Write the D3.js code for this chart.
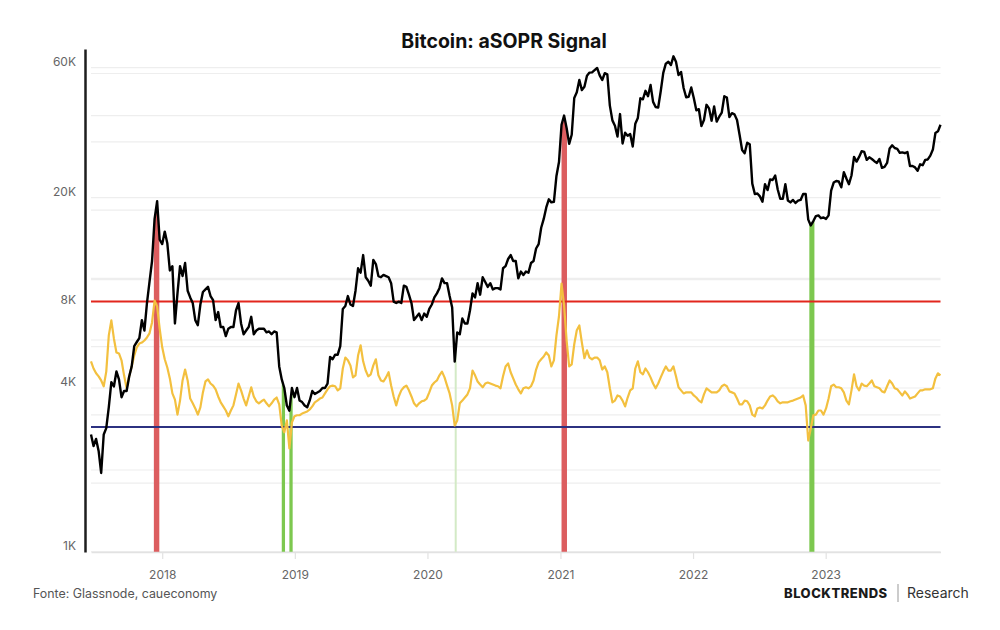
<!DOCTYPE html>
<html>
<head>
<meta charset="utf-8">
<script src="https://cdn.jsdelivr.net/npm/d3@7"></script>
<style>
  body { margin: 0; background: #fff; }
  text { font-family: Inter, "Noto Sans", sans-serif; }
</style>
</head>
<body>
<div id="chart"></div>
<script>
// dados semanais a partir de 19/06/2017
const startDate = "2017-06-19";
const endDate = "2023-11-13";

// preço do BTC (USD), fechamento semanal aproximado
const price = [
  2700, 2450, 2600, 2350, 1950, 2700, 2850, 3400, 4200, 4050,
  4600, 4300, 3700, 3900, 3900, 4400, 4800, 5700, 5900, 6100,
  7100, 6500, 8200, 9800, 11700, 16700, 19400, 14000, 13500, 15000,
  13600, 10800, 11200, 6900, 8900, 11200, 10300, 11500, 9100, 8600,
  8200, 7100, 6800, 8100, 9000, 9200, 9400, 8700, 8400, 7100,
  7600, 6700, 6700, 6200, 6600, 6700, 6700, 7700, 8200, 6900,
  6300, 6500, 6700, 7300, 6300, 6500, 6600, 6600, 6600, 6400,
  6450, 6300, 6450, 6400, 4800, 4300, 4000, 3450, 3300, 4000,
  3700, 4000, 3600, 3550, 3450, 3400, 3600, 3900, 3800, 3850,
  3900, 4000, 4000, 4150, 5200, 5100, 5300, 5300, 5700, 7800,
  8000, 8700, 8100, 8000, 9100, 11000, 10600, 12300, 10200, 9900,
  9500, 11800, 11400, 10300, 10200, 10400, 10300, 10200, 9700, 8300,
  8200, 8300, 8200, 9500, 9400, 8800, 8200, 7100, 7300, 7500,
  7100, 7500, 7300, 7800, 8100, 8600, 8900, 9300, 10100, 9700,
  9700, 8700, 7900, 5000, 6400, 6300, 7200, 6900, 6900, 7700,
  8900, 8600, 9700, 8800, 10200, 9800, 9400, 9700, 9200, 9300,
  9300, 9200, 11000, 11200, 11900, 12300, 11700, 11700, 10100, 10700,
  10400, 10700, 10600, 11500, 11700, 13000, 13500, 15500, 16700, 18400,
  19700, 19200, 19300, 24000, 27000, 37000, 40000, 36000, 31500, 34000,
  46400, 48700, 54000, 49600, 51000, 56000, 57500, 57600, 58700, 59800,
  56200, 54000, 57200, 56700, 43500, 38400, 36700, 33500, 40500, 31600,
  34600, 33700, 34200, 30800, 37300, 39200, 46300, 45900, 49300, 47100,
  51800, 44900, 43000, 42800, 49100, 57400, 62000, 63000, 61300, 66000,
  63000, 56300, 57800, 50500, 46700, 46900, 50700, 46400, 41800, 42200,
  36600, 38500, 43800, 42500, 38300, 43200, 38000, 39600, 41000, 47100,
  46600, 39500, 40800, 40400, 38500, 34000, 29900, 29100, 31800, 31400,
  22500, 20600, 20700, 20200, 19300, 22400, 21300, 23300, 23200, 24100,
  21400, 19800, 19800, 22400, 19500, 19200, 19600, 19100, 19500, 19600,
  20600, 20600, 16600, 15800, 16400, 17100, 17200, 16800, 16900, 16700,
  17200, 21200, 22700, 23000, 22900, 21800, 24800, 23500, 22400, 24100,
  28200, 27100, 28200, 29600, 29400, 27500, 28100, 27700, 27200, 26800,
  27700, 25700, 25900, 26800, 30300, 31100, 30400, 30200, 29200, 29300,
  29100, 29400, 26100, 26100, 25800, 25100, 26500, 26300, 27500, 27600,
  28500, 30000, 34500, 35000, 37000
];

// aSOPR (eixo secundário, oculto)
const asopr = [
  1.0157, 1.0136, 1.0122, 1.0113, 1.0101, 1.0084, 1.0127, 1.0233, 1.0277, 1.0224,
  1.0183, 1.0180, 1.0160, 1.0116, 1.0078, 1.0113, 1.0142, 1.0174, 1.0198, 1.0209,
  1.0212, 1.0218, 1.0227, 1.0239, 1.0271, 1.0335, 1.0318, 1.0253, 1.0198, 1.0163,
  1.0139, 1.0107, 1.0063, 1.0045, 1.0001, 1.0042, 1.0101, 1.0133, 1.0101, 1.0048,
  1.0034, 1.0019, 1.0001, 1.0022, 1.0066, 1.0098, 1.0104, 1.0092, 1.0086, 1.0075,
  1.0054, 1.0037, 1.0025, 1.0013, 0.9996, 1.0013, 1.0028, 1.0060, 1.0092, 1.0072,
  1.0048, 1.0028, 1.0054, 1.0081, 1.0054, 1.0040, 1.0034, 1.0040, 1.0045, 1.0034,
  1.0025, 1.0034, 1.0045, 1.0051, 1.0031, 0.9969, 0.9949, 0.9984, 0.9902, 0.9978,
  0.9996, 0.9999, 0.9999, 1.0004, 1.0007, 1.0010, 1.0016, 1.0025, 1.0037, 1.0042,
  1.0048, 1.0051, 1.0063, 1.0075, 1.0084, 1.0086, 1.0084, 1.0072, 1.0078, 1.0136,
  1.0168, 1.0160, 1.0145, 1.0110, 1.0116, 1.0174, 1.0204, 1.0157, 1.0130, 1.0113,
  1.0119, 1.0145, 1.0163, 1.0116, 1.0101, 1.0098, 1.0110, 1.0125, 1.0086, 1.0054,
  1.0028, 1.0054, 1.0072, 1.0081, 1.0086, 1.0072, 1.0054, 1.0034, 1.0025, 1.0034,
  1.0040, 1.0042, 1.0048, 1.0066, 1.0086, 1.0095, 1.0101, 1.0116, 1.0127, 1.0110,
  1.0086, 1.0063, 1.0028, 0.9969, 0.9984, 1.0034, 1.0042, 1.0051, 1.0060, 1.0078,
  1.0130, 1.0116, 1.0098, 1.0089, 1.0081, 1.0092, 1.0095, 1.0092, 1.0089, 1.0086,
  1.0084, 1.0078, 1.0113, 1.0142, 1.0151, 1.0125, 1.0107, 1.0089, 1.0075, 1.0063,
  1.0078, 1.0081, 1.0078, 1.0084, 1.0101, 1.0133, 1.0154, 1.0163, 1.0171, 1.0183,
  1.0174, 1.0142, 1.0160, 1.0233, 1.0289, 1.0385, 1.0321, 1.0218, 1.0142, 1.0148,
  1.0207, 1.0248, 1.0262, 1.0212, 1.0166, 1.0189, 1.0168, 1.0163, 1.0168, 1.0168,
  1.0160, 1.0133, 1.0142, 1.0125, 1.0078, 1.0037, 1.0042, 1.0057, 1.0054, 1.0042,
  1.0025, 1.0051, 1.0072, 1.0078, 1.0136, 1.0157, 1.0125, 1.0119, 1.0136, 1.0125,
  1.0110, 1.0092, 1.0078, 1.0092, 1.0110, 1.0127, 1.0142, 1.0130, 1.0130, 1.0142,
  1.0113, 1.0081, 1.0072, 1.0063, 1.0066, 1.0066, 1.0066, 1.0057, 1.0051, 1.0042,
  1.0037, 1.0060, 1.0078, 1.0072, 1.0066, 1.0066, 1.0066, 1.0072, 1.0084, 1.0089,
  1.0084, 1.0069, 1.0066, 1.0063, 1.0048, 1.0031, 1.0031, 1.0042, 1.0040, 1.0028,
  1.0001, 0.9996, 1.0019, 1.0022, 1.0019, 1.0028, 1.0042, 1.0054, 1.0057, 1.0051,
  1.0040, 1.0034, 1.0037, 1.0037, 1.0037, 1.0040, 1.0042, 1.0045, 1.0048, 1.0051,
  1.0057, 1.0028, 0.9925, 0.9960, 0.9999, 1.0001, 1.0013, 1.0013, 1.0001, 1.0019,
  1.0048, 1.0084, 1.0089, 1.0081, 1.0081, 1.0078, 1.0066, 1.0042, 1.0031, 1.0072,
  1.0119, 1.0084, 1.0072, 1.0092, 1.0086, 1.0084, 1.0092, 1.0101, 1.0084, 1.0081,
  1.0078, 1.0069, 1.0066, 1.0084, 1.0101, 1.0092, 1.0078, 1.0075, 1.0066, 1.0057,
  1.0069, 1.0060, 1.0048, 1.0051, 1.0054, 1.0063, 1.0072, 1.0072, 1.0075, 1.0075,
  1.0075, 1.0078, 1.0107, 1.0122, 1.0116
];

// sinais (início, fim, tipo)
const signalStart = ["2017-12-09", "2018-11-26", "2018-12-17", "2020-03-16", "2021-01-04", "2022-11-17"];
const signalEnd   = ["2017-12-24", "2018-12-05", "2018-12-26", "2020-03-21", "2021-01-19", "2022-12-01"];
const signalType  = ["venda", "compra", "compra", "fraco", "venda", "compra"];

// limites do aSOPR
const sellLevel = 1.0332;
const buyLevel = 0.9965;

// eixos
const priceTicks = [1000, 4000, 8000, 20000, 60000];
const priceGrid = [2000, 4000, 6000, 10000, 20000, 40000, 60000];
const yearTicks = ["2018", "2019", "2020", "2021", "2022", "2023"];

const W = 1000, H = 630;
const plotLeft = 91, plotRight = 940.5, plotTop = 49, plotBottom = 552;

const parse = d3.utcParse("%Y-%m-%d");
const t0 = parse(startDate);
const data = price.map((p, i) => ({
  date: d3.utcDay.offset(t0, 7 * i),
  price: p,
  sopr: asopr[i]
}));

const svg = d3.select("#chart").append("svg")
  .attr("width", W)
  .attr("height", H);

const x = d3.scaleUtc()
  .domain([t0, parse(endDate)])
  .range([plotLeft, plotRight]);

const y = d3.scaleLog()
  .domain([1000, 70200])
  .range([plotBottom, plotTop]);

const y2 = d3.scaleLinear()
  .domain([0.96, 1.10])
  .range([551.5, 73.5]);

// linhas de grade
const grid = svg.append("g");
grid.selectAll(".g1")
  .data(priceGrid)
  .enter().append("line")
  .attr("x1", plotLeft).attr("x2", plotRight)
  .attr("y1", d => y(d)).attr("y2", d => y(d))
  .attr("stroke", "#eeeeee")
  .attr("stroke-width", 1.2);
grid.selectAll(".g2")
  .data(y2.ticks(7))
  .enter().append("line")
  .attr("x1", plotLeft).attr("x2", plotRight)
  .attr("y1", d => y2(d)).attr("y2", d => y2(d))
  .attr("stroke", "#eeeeee")
  .attr("stroke-width", 1.2);

// barras de sinal, cortadas pela área abaixo do preço
svg.append("clipPath")
  .attr("id", "abaixo")
  .append("path")
  .attr("d", d3.area()
    .x(d => x(d.date))
    .y0(plotBottom)
    .y1(d => y(d.price))(data));

const signalColor = { venda: "#dc5d5f", compra: "#7dc84f", fraco: "#d3eac6" };
svg.append("g")
  .attr("clip-path", "url(#abaixo)")
  .selectAll("rect")
  .data(signalStart.map((s, i) => ({ s: parse(s), e: parse(signalEnd[i]), type: signalType[i] })))
  .enter().append("rect")
  .attr("x", d => x(d.s))
  .attr("width", d => Math.max(2, x(d.e) - x(d.s)))
  .attr("y", plotTop)
  .attr("height", plotBottom - plotTop)
  .attr("fill", d => signalColor[d.type]);

// limites horizontais
svg.append("line")
  .attr("x1", plotLeft).attr("x2", plotRight)
  .attr("y1", y2(sellLevel)).attr("y2", y2(sellLevel))
  .attr("stroke", "#e2261d")
  .attr("stroke-width", 2);
svg.append("line")
  .attr("x1", plotLeft).attr("x2", plotRight)
  .attr("y1", y2(buyLevel)).attr("y2", y2(buyLevel))
  .attr("stroke", "#2c3181")
  .attr("stroke-width", 2);

// aSOPR
svg.append("path")
  .datum(data)
  .attr("fill", "none")
  .attr("stroke", "#f3c03f")
  .attr("stroke-width", 2.2)
  .attr("stroke-linejoin", "round")
  .attr("d", d3.line().x(d => x(d.date)).y(d => y2(d.sopr)));

// preço
svg.append("path")
  .datum(data)
  .attr("fill", "none")
  .attr("stroke", "#000")
  .attr("stroke-width", 2.4)
  .attr("stroke-linejoin", "round")
  .attr("d", d3.line().x(d => x(d.date)).y(d => y(d.price)));

// eixo X
const xAxis = svg.append("g")
  .attr("transform", `translate(0,${plotBottom})`)
  .call(d3.axisBottom(x)
    .tickValues(yearTicks.map(d => parse(d + "-01-01")))
    .tickFormat(d3.utcFormat("%Y"))
    .tickSize(7)
    .tickSizeOuter(0)
    .tickPadding(11));
xAxis.select(".domain").attr("stroke", "#e2e2e2").attr("stroke-width", 1.5);
xAxis.selectAll(".tick line").attr("stroke", "#e2e2e2").attr("stroke-width", 1.2);
xAxis.selectAll("text")
  .attr("fill", "#666")
  .style("font-size", "12px")
  .style("font-family", "Inter, sans-serif");

// eixo Y (log)
const yAxis = svg.append("g")
  .attr("transform", "translate(85,0)")
  .call(d3.axisLeft(y)
    .tickValues(priceTicks)
    .tickFormat(d => d / 1000 + "K")
    .tickSize(0)
    .tickPadding(9));
yAxis.select(".domain").attr("stroke", "#1e1e1e").attr("stroke-width", 2.5);
yAxis.selectAll("text")
  .attr("dy", "-0.18em")
  .attr("fill", "#666")
  .style("font-size", "12px")
  .style("font-family", "Inter, sans-serif");

// título
svg.append("text")
  .attr("x", 504)
  .attr("y", 48)
  .attr("text-anchor", "middle")
  .style("font-size", "19.5px")
  .style("font-weight", "700")
  .attr("fill", "#111")
  .text("Bitcoin: aSOPR Signal");

// rodapé
svg.append("text")
  .attr("x", 33)
  .attr("y", 598)
  .style("font-size", "12.4px")
  .attr("fill", "#555")
  .text("Fonte: Glassnode, caueconomy");

svg.append("text")
  .attr("x", 784)
  .attr("y", 598)
  .style("font-size", "13px")
  .style("font-weight", "800")
  .style("letter-spacing", "0.5px")
  .attr("fill", "#1a1a1a")
  .text("BLOCKTRENDS");

svg.append("line")
  .attr("x1", 898).attr("x2", 898)
  .attr("y1", 584).attr("y2", 602)
  .attr("stroke", "#999")
  .attr("stroke-width", 1);

svg.append("text")
  .attr("x", 907)
  .attr("y", 598)
  .style("font-size", "14px")
  .attr("fill", "#333")
  .text("Research");
</script>
</body>
</html>
